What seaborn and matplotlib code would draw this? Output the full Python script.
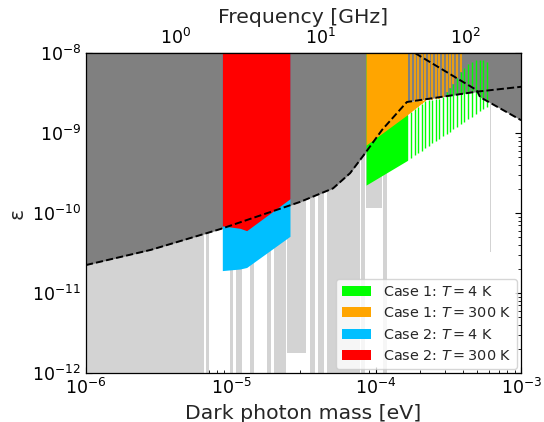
import numpy as np
import pandas as pd
import matplotlib
matplotlib.use("Agg")
import matplotlib.pyplot as plt
from matplotlib.patches import Patch
import seaborn as sns

# existing limits (dashed curves)
lim1_mass = [1e-6, 2.8e-6, 8.4e-6, 2.99e-5, 5.05e-5, 6.62e-5, 8.4e-5, 1.10e-4, 1.63e-4, 4.94e-4, 1e-3]
lim1_eps = [2.24e-11, 3.47e-11, 6.3e-11, 1.38e-10, 2.04e-10, 3.16e-10, 5.6e-10, 1.10e-9, 2.45e-9, 3.3e-9, 3.8e-9]
lim2_mass = [1.86e-4, 4.94e-4, 5.21e-4, 1e-3]
lim2_eps = [1e-8, 3.45e-9, 2.82e-9, 1.45e-9]

# other haloscope limits (light gray bands): mass range and lower edge
halo_lo = [1e-6, 6.72e-6, 9.84e-6, 1.083e-5, 1.352e-5, 1.763e-5, 1.98e-5, 2.433e-5, 3.51e-5,
           3.98e-5, 4.59e-5, 7.88e-5, 8.53e-5, 1.109e-4, 6.06e-4]
halo_hi = [6.51e-6, 7.05e-6, 1.024e-5, 1.186e-5, 1.441e-5, 1.873e-5, 2.394e-5, 3.29e-5, 3.80e-5,
           4.38e-5, 7.76e-5, 8.40e-5, 1.10e-4, 1.19e-4, 6.21e-4]
halo_eps = [1e-12, 1e-12, 1e-12, 1e-12, 1e-12, 1e-12, 1e-12, 1.78e-12, 1e-12,
            1e-12, 1e-12, 1e-12, 1.17e-10, 1e-12, 3.24e-11]

# case 2 (broadband part)
c2_mass = [8.71e-6, 1.153e-5, 1.282e-5, 2.55e-5]
c2_4K = [1.91e-11, 2.0e-11, 2.09e-11, 5.13e-11]
c2_300K = [6.92e-11, 6.46e-11, 6.03e-11, 1.51e-10]

# case 1, continuous part
c1_mass = [8.53e-5, 1.644e-4]
c1_4K = [2.24e-10, 4.56e-10]
c1_300K = [7.08e-10, 1.70e-9]
c1_wedge_mass = [1.644e-4, 2.19e-4]
c1_wedge_lo = [1.70e-9, 2.58e-9]
c1_wedge_hi = [2.45e-9, 2.60e-9]

# case 1, resonant spikes
spike_mass = [1.644e-4, 1.743e-4, 1.858e-4, 1.957e-4, 2.066e-4, 2.188e-4, 2.309e-4, 2.445e-4,
              2.580e-4, 2.732e-4, 2.884e-4, 3.073e-4, 3.238e-4, 3.413e-4, 3.637e-4, 3.838e-4,
              4.064e-4, 4.33e-4, 4.571e-4, 4.894e-4, 5.21e-4, 5.495e-4, 5.799e-4]
spike_4K_lo = [4.56e-10, 4.90e-10, 5.30e-10, 5.65e-10, 6.04e-10, 6.47e-10, 6.92e-10, 7.43e-10,
               7.94e-10, 8.51e-10, 9.10e-10, 9.82e-10, 1.047e-9, 1.12e-9, 1.21e-9, 1.29e-9,
               1.38e-9, 1.50e-9, 1.60e-9, 1.74e-9, 1.88e-9, 2.00e-9, 2.14e-9]
spike_4K_hi = [1.70e-9, 1.84e-9, 2.00e-9, 2.14e-9, 2.30e-9, 2.49e-9, 2.58e-9, 2.62e-9,
               2.66e-9, 2.70e-9, 2.82e-9, 3.25e-9, 3.65e-9, 4.10e-9, 4.87e-9, 5.79e-9,
               6.49e-9, 7.29e-9, 7.72e-9, 8.18e-9, 8.18e-9, 8.18e-9, 7.72e-9]
spike_300K_lo = [1.70e-9, 1.84e-9, 2.00e-9, 2.14e-9, 2.30e-9, 2.49e-9, 2.58e-9, 2.62e-9,
                 2.66e-9, 2.70e-9, 2.82e-9, 3.25e-9, 3.65e-9, 4.10e-9, 4.87e-9, 5.79e-9,
                 np.nan, np.nan, np.nan, np.nan, np.nan, np.nan, np.nan]

labels = ["Case 1: $T = 4$ K", "Case 1: $T = 300$ K", "Case 2: $T = 4$ K", "Case 2: $T = 300$ K"]
colors = ["lime", "orange", "deepskyblue", "red"]

sns.set_style("ticks", {"axes.edgecolor": "black", "xtick.color": "black", "ytick.color": "black",
                        "xtick.direction": "in", "ytick.direction": "in"})
plt.rcParams["axes.linewidth"] = 0.9
plt.rcParams["xtick.major.size"] = 4.5
plt.rcParams["ytick.major.size"] = 4.5
plt.rcParams["xtick.minor.size"] = 2.5
plt.rcParams["ytick.minor.size"] = 2.5

EPS_TOP = 1e-8

fig = plt.figure(figsize=(5.44, 4.22), dpi=100)
ax = fig.add_axes([0.158, 0.116, 0.8, 0.758])
ax.set_xscale("log")
ax.set_yscale("log")

for lo, hi, bot in zip(halo_lo, halo_hi, halo_eps):
    ax.fill_between([lo, hi], [bot, bot], EPS_TOP, color="lightgray", lw=0, zorder=1)

ax.fill_between(lim1_mass, lim1_eps, EPS_TOP, color="gray", lw=0, zorder=1.1)
ax.fill_between(lim2_mass, lim2_eps, EPS_TOP, color="gray", lw=0, zorder=1.1)

# case 1
ax.fill_between(c1_mass, c1_4K, EPS_TOP, color=colors[0], lw=0, zorder=1.2)
ax.vlines(spike_mass, spike_4K_lo, spike_4K_hi, colors=colors[0], lw=1.0, zorder=1.3)
ax.fill_between(c1_mass, c1_300K, EPS_TOP, color=colors[1], lw=0, zorder=1.4)
ax.fill_between(c1_wedge_mass, c1_wedge_lo, c1_wedge_hi, color=colors[1], lw=0, zorder=1.4)
sp = np.array(spike_300K_lo)
ok = ~np.isnan(sp)
ax.vlines(np.array(spike_mass)[ok], sp[ok], EPS_TOP, colors=colors[1], lw=1.2, zorder=1.5)

# case 2
ax.fill_between(c2_mass, c2_4K, EPS_TOP, color=colors[2], lw=0, zorder=1.6)
ax.fill_between(c2_mass, c2_300K, EPS_TOP, color=colors[3], lw=0, zorder=1.7)

df1 = pd.DataFrame({"mass": lim1_mass, "eps": lim1_eps})
df2 = pd.DataFrame({"mass": lim2_mass, "eps": lim2_eps})
for d in (df1, df2):
    sns.lineplot(data=d, x="mass", y="eps", ax=ax, color="black", lw=1.4,
                 linestyle="--", estimator=None, sort=False, zorder=3)

ax.set_xlim(1e-6, 1e-3)
ax.set_ylim(1e-12, EPS_TOP)
ax.tick_params(which="both", direction="in", right=True, labelsize=12.5)
ax.set_xlabel("Dark photon mass [eV]", fontsize=14.7)
ax.set_ylabel("ε", fontsize=14.7)

h_eVs = 4.135667e-15
sec = ax.secondary_xaxis("top", functions=(lambda m: m / h_eVs / 1e9,
                                           lambda f: f * 1e9 * h_eVs))
sec.tick_params(which="both", direction="in", labelsize=12.5)
sec.set_xlabel("Frequency [GHz]", fontsize=14.7)

handles = [Patch(facecolor=c, edgecolor="none") for c in colors]
ax.legend(handles, labels, loc="lower right", fontsize=10.4, borderaxespad=0.3)

fig.savefig("out.png", dpi=100)
